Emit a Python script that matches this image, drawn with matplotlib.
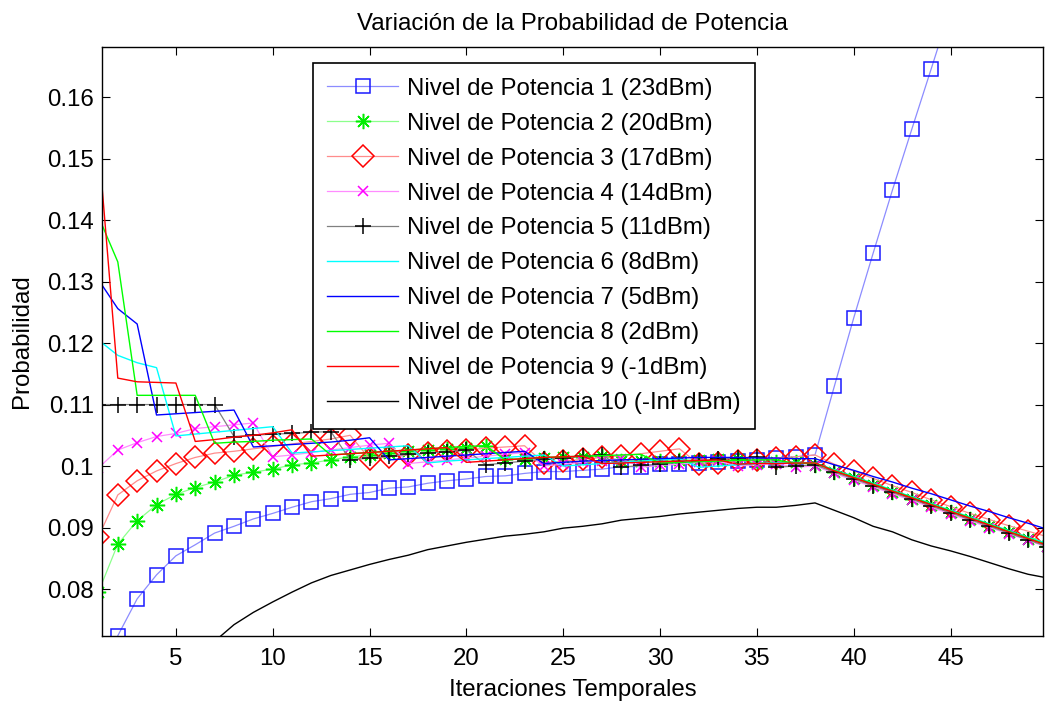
import matplotlib
matplotlib.use("Agg")
import matplotlib.pyplot as plt
import numpy as np

plt.rcParams['font.family'] = ['Liberation Sans', 'DejaVu Sans']

iterations = list(range(1, 51))

labels = [
    "Nivel de Potencia 1 (23dBm)",
    "Nivel de Potencia 2 (20dBm)",
    "Nivel de Potencia 3 (17dBm)",
    "Nivel de Potencia 4 (14dBm)",
    "Nivel de Potencia 5 (11dBm)",
    "Nivel de Potencia 6 (8dBm)",
    "Nivel de Potencia 7 (5dBm)",
    "Nivel de Potencia 8 (2dBm)",
    "Nivel de Potencia 9 (-1dBm)",
    "Nivel de Potencia 10 (-Inf dBm)",
]

p1 = [0.0640, 0.0724, 0.0784, 0.0823, 0.0854, 0.0872, 0.0891, 0.0902, 0.0914, 0.0923,
      0.0933, 0.0942, 0.0947, 0.0954, 0.0957, 0.0964, 0.0966, 0.0972, 0.0976, 0.0979,
      0.0983, 0.0984, 0.0988, 0.0991, 0.0991, 0.0993, 0.0995, 0.0999, 0.0999, 0.1003,
      0.1004, 0.1005, 0.1006, 0.1009, 0.1010, 0.1013, 0.1015, 0.1018, 0.1130, 0.1241,
      0.1346, 0.1449, 0.1548, 0.1646, 0.1745, 0.1843, 0.1940, 0.2036, 0.2131, 0.2225]

p2 = [0.0795, 0.0873, 0.0911, 0.0937, 0.0954, 0.0965, 0.0974, 0.0985, 0.0990, 0.0995,
      0.1002, 0.1005, 0.1010, 0.1015, 0.1018, 0.1021, 0.1024, 0.1026, 0.1028, 0.1030,
      0.1033, 0.1012, 0.1012, 0.1013, 0.1014, 0.1015, 0.1016, 0.1009, 0.1009, 0.1009,
      0.1010, 0.1010, 0.1011, 0.1011, 0.1005, 0.1006, 0.1006, 0.1002, 0.0991, 0.0980,
      0.0969, 0.0958, 0.0947, 0.0936, 0.0925, 0.0914, 0.0903, 0.0892, 0.0881, 0.0870]

p3 = [0.0885, 0.0953, 0.0976, 0.0992, 0.1004, 0.1014, 0.1021, 0.1024, 0.1028, 0.1032,
      0.1036, 0.1040, 0.1044, 0.1050, 0.1012, 0.1015, 0.1018, 0.1021, 0.1024, 0.1026,
      0.1029, 0.1031, 0.1033, 0.1005, 0.1008, 0.1011, 0.1014, 0.1017, 0.1020, 0.1024,
      0.1028, 0.1003, 0.1005, 0.1008, 0.1010, 0.1013, 0.1015, 0.1018, 0.1003, 0.0992,
      0.0980, 0.0968, 0.0957, 0.0945, 0.0934, 0.0923, 0.0913, 0.0903, 0.0894, 0.0885]

p4 = [0.0997, 0.1026, 0.1038, 0.1048, 0.1053, 0.1061, 0.1064, 0.1067, 0.1070, 0.1015,
      0.1018, 0.1022, 0.1026, 0.1030, 0.1034, 0.1037, 0.1004, 0.1007, 0.1010, 0.1013,
      0.1016, 0.1019, 0.1022, 0.1000, 0.1003, 0.1006, 0.1009, 0.1012, 0.0998, 0.1001,
      0.1003, 0.1006, 0.1008, 0.1000, 0.1002, 0.1004, 0.0998, 0.1000, 0.0988, 0.0977,
      0.0966, 0.0955, 0.0944, 0.0933, 0.0922, 0.0911, 0.0900, 0.0890, 0.0879, 0.0868]

p5 = [0.1100, 0.1100, 0.1100, 0.1100, 0.1100, 0.1100, 0.1100, 0.1048, 0.1050, 0.1052,
      0.1053, 0.1055, 0.1056, 0.1010, 0.1013, 0.1016, 0.1019, 0.1021, 0.1023, 0.1026,
      0.1002, 0.1005, 0.1008, 0.1011, 0.1013, 0.1016, 0.1018, 0.0998, 0.1001, 0.1003,
      0.1006, 0.1008, 0.1011, 0.1013, 0.1015, 0.0998, 0.1000, 0.1002, 0.0990, 0.0979,
      0.0968, 0.0957, 0.0946, 0.0935, 0.0924, 0.0913, 0.0902, 0.0891, 0.0880, 0.0869]

p6 = [0.1205, 0.1180, 0.1168, 0.1160, 0.1049, 0.1052, 0.1055, 0.1058, 0.1061, 0.1064,
      0.1021, 0.1023, 0.1025, 0.1027, 0.1029, 0.1031, 0.1033, 0.1005, 0.1008, 0.1010,
      0.1012, 0.1014, 0.1016, 0.1018, 0.1000, 0.1002, 0.1004, 0.1006, 0.1008, 0.1010,
      0.1012, 0.0998, 0.1000, 0.1002, 0.1004, 0.1005, 0.1006, 0.1005, 0.0994, 0.0983,
      0.0972, 0.0961, 0.0950, 0.0939, 0.0928, 0.0917, 0.0906, 0.0895, 0.0884, 0.0874]

p7 = [0.1303, 0.1256, 0.1231, 0.1083, 0.1085, 0.1087, 0.1089, 0.1091, 0.1031, 0.1033,
      0.1035, 0.1037, 0.1039, 0.1042, 0.1046, 0.1010, 0.1012, 0.1014, 0.1016, 0.1018,
      0.1020, 0.1022, 0.1024, 0.1004, 0.1006, 0.1008, 0.1009, 0.1010, 0.1011, 0.1012,
      0.1013, 0.1014, 0.1014, 0.1014, 0.1013, 0.1013, 0.1012, 0.1012, 0.1002, 0.0993,
      0.0983, 0.0974, 0.0964, 0.0955, 0.0945, 0.0935, 0.0926, 0.0916, 0.0907, 0.0897]

p8 = [0.1406, 0.1332, 0.1115, 0.1115, 0.1115, 0.1115, 0.1037, 0.1039, 0.1040, 0.1042,
      0.1043, 0.1044, 0.1018, 0.1020, 0.1022, 0.1024, 0.1026, 0.1028, 0.1030, 0.1032,
      0.1033, 0.1010, 0.1012, 0.1014, 0.1015, 0.1016, 0.1017, 0.1018, 0.1019, 0.1005,
      0.1006, 0.1007, 0.1008, 0.1009, 0.1010, 0.1010, 0.1004, 0.1005, 0.0993, 0.0982,
      0.0971, 0.0960, 0.0949, 0.0938, 0.0927, 0.0916, 0.0905, 0.0894, 0.0883, 0.0872]

p9 = [0.1526, 0.1143, 0.1137, 0.1136, 0.1135, 0.1040, 0.1043, 0.1047, 0.1050, 0.1054,
      0.1059, 0.1016, 0.1018, 0.1020, 0.1022, 0.1024, 0.1026, 0.1028, 0.1030, 0.1006,
      0.1008, 0.1010, 0.1012, 0.1014, 0.1015, 0.1016, 0.1004, 0.1005, 0.1006, 0.1007,
      0.1008, 0.1009, 0.1010, 0.1003, 0.1004, 0.1004, 0.1005, 0.1005, 0.0992, 0.0981,
      0.0970, 0.0959, 0.0948, 0.0937, 0.0926, 0.0915, 0.0904, 0.0893, 0.0882, 0.0871]

p10 = [0.0500, 0.0550, 0.0590, 0.0630, 0.0660, 0.0690, 0.0715, 0.0742, 0.0762, 0.0779,
       0.0795, 0.0810, 0.0822, 0.0831, 0.0840, 0.0848, 0.0855, 0.0864, 0.0870, 0.0876,
       0.0881, 0.0886, 0.0889, 0.0893, 0.0899, 0.0902, 0.0906, 0.0912, 0.0915, 0.0918,
       0.0922, 0.0925, 0.0928, 0.0931, 0.0933, 0.0933, 0.0936, 0.0940, 0.0928, 0.0916,
       0.0902, 0.0893, 0.0880, 0.0870, 0.0862, 0.0853, 0.0843, 0.0833, 0.0824, 0.0818]

series = [p1, p2, p3, p4, p5, p6, p7, p8, p9, p10]

styles = [
    dict(color='#8c8cff', lw=0.9, marker='s', ms=10.5, mec='#1a1aff', mfc='none', mew=1.1),
    dict(color='#8cff8c', lw=0.9, marker=(8, 2, 0), ms=11, mec='#00ee00', mfc='none', mew=1.1),
    dict(color='#ff8c8c', lw=0.9, marker='D', ms=11, mec='#ff0000', mfc='none', mew=1.1),
    dict(color='#ff8cff', lw=0.9, marker='x', ms=7, mec='#ff00ff', mfc='none', mew=1.1),
    dict(color='#808080', lw=0.9, marker='+', ms=12, mec='#000000', mfc='none', mew=1.1),
    dict(color='#00ffff', lw=1.0),
    dict(color='#0000ff', lw=1.0),
    dict(color='#00ff00', lw=1.0),
    dict(color='#ff0000', lw=1.0),
    dict(color='#000000', lw=1.0),
]

FS = 17.3

fig = plt.figure(figsize=(10.46, 7.04), dpi=100)
ax = fig.add_axes([0.0978, 0.0966, 0.8993, 0.8371])

for vals, lab, st in zip(series, labels, styles):
    ax.plot(iterations, vals, label=lab, **st)

ax.set_xlim(1.2, 49.77)
ax.set_ylim(0.07236, 0.1682)
ax.set_xticks([5, 10, 15, 20, 25, 30, 35, 40, 45])
yt = [0.08, 0.09, 0.10, 0.11, 0.12, 0.13, 0.14, 0.15, 0.16]
ax.set_yticks(yt)
ax.set_yticklabels(["0.08", "0.09", "0.1", "0.11", "0.12", "0.13", "0.14", "0.15", "0.16"])
ax.tick_params(direction='in', length=6, width=0.8, labelsize=FS,
               top=True, right=True)
ax.tick_params(axis='x', pad=9)
ax.tick_params(axis='y', pad=6)
for s in ax.spines.values():
    s.set_linewidth(1.0)

ax.set_title("Variación de la Probabilidad de Potencia", fontsize=FS, pad=12)
ax.set_xlabel("Iteraciones Temporales", fontsize=FS, labelpad=6)
ax.set_ylabel("Probabilidad", fontsize=FS, labelpad=10)

leg = ax.legend(loc='upper left', bbox_to_anchor=(0.224, 0.972), borderaxespad=0,
                fontsize=FS, numpoints=1, fancybox=False, framealpha=1,
                edgecolor='black', handlelength=2.95, handletextpad=0.35,
                labelspacing=0.54, borderpad=0.6)
leg.get_frame().set_linewidth(1.2)

fig.savefig("out.png", dpi=100)
